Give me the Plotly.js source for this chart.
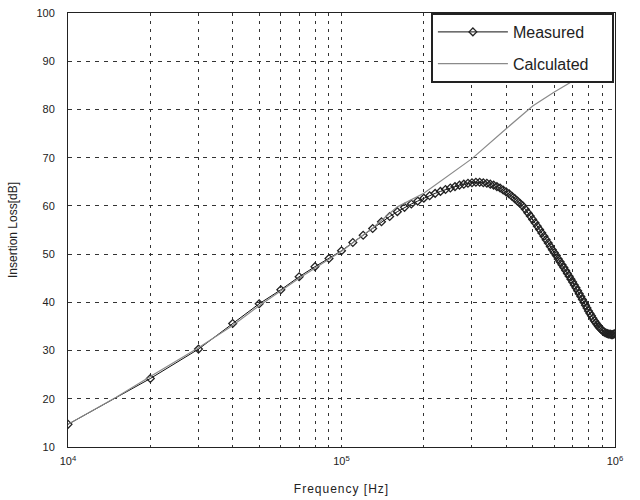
<!DOCTYPE html>
<html>
<head>
<meta charset="utf-8">
<script src="https://cdn.plot.ly/plotly-3.0.1.min.js"></script>
<style>html,body{margin:0;padding:0;background:#fff;}#chart{width:640px;height:500px;}
.xtitle{letter-spacing:1px;}</style>
</head>
<body>
<div id="chart"></div>
<script>
// Measured: frequency in kHz
const measuredFreqKHz = [10,20,30,40,50,60,70,80,90,100,110,120,130,140,150,160,170,180,190,200,
  210,220,230,240,250,260,270,280,290,300,310,320,330,340,350,360,370,380,390,400,
  410,420,430,440,450,460,470,480,490,500,510,520,530,540,550,560,570,580,590,600,
  610,620,630,640,650,660,670,680,690,700,710,720,730,740,750,760,770,780,790,800,
  810,820,830,840,850,860,870,880,890,900,910,920,930,940,950,960,970,980,990,1000];
const measuredDB = [14.7,24.2,30.3,35.6,39.7,42.6,45.3,47.4,49.1,50.7,52.4,53.9,55.3,56.7,57.8,58.8,59.7,60.4,61.0,61.6,
  62.1,62.6,63.0,63.4,63.7,64.0,64.3,64.5,64.7,64.8,64.9,64.9,64.8,64.7,64.5,64.3,64.0,63.7,63.3,62.9,
  62.5,62.0,61.5,61.0,60.5,60.0,59.3,58.6,57.9,57.2,56.5,55.8,55.1,54.4,53.7,53.0,52.3,51.6,50.9,50.3,
  49.7,49.0,48.4,47.8,47.2,46.6,46.0,45.4,44.8,44.2,43.6,43.0,42.4,41.8,41.2,40.6,40.0,39.4,38.8,38.2,
  37.7,37.2,36.7,36.2,35.8,35.4,35.0,34.7,34.4,34.1,33.9,33.7,33.6,33.5,33.4,33.4,33.3,33.3,33.4,33.5];

// Calculated: frequency in Hz
const calcFreq = [1e4,1.5e4,2e4,3e4,4e4,5e4,7e4,1e5,1.3e5,1.6e5,2e5,2.5e5,3e5,4e5,5e5,6e5,7e5,8e5];
const calcDB   = [14.7,20.3,24.6,30.6,35.2,39.3,45.0,50.6,55.4,59.8,62.6,66.5,69.8,76.0,80.7,83.6,85.8,87.8];

const xTickVals = [1e4,2e4,3e4,4e4,5e4,6e4,7e4,8e4,9e4,1e5,2e5,3e5,4e5,5e5,6e5,7e5,8e5,9e5,1e6];
const xTickText = ['10<sup>4</sup>','','','','','','','','','10<sup>5</sup>','','','','','','','','','10<sup>6</sup>'];
const yTickVals = [10,20,30,40,50,60,70,80,90,100];

const measured = {
  x: measuredFreqKHz.map(v => v * 1000),
  y: measuredDB,
  name: 'Measured',
  legendgroup: 'a',
  type: 'scatter',
  mode: 'lines+markers',
  line: {color: '#111', width: 1},
  marker: {symbol: 'diamond-open', size: 6, color: '#222', line: {width: 1.3, color: '#222'}}
};
const calculated = {
  x: calcFreq,
  y: calcDB,
  name: 'Calculated\u00a0\u00a0\u00a0\u00a0',
  legendgroup: 'b',
  type: 'scatter',
  mode: 'lines',
  line: {color: '#8a8a8a', width: 1.2}
};

const font = 'Liberation Sans, Arial, sans-serif';
const layout = {
  width: 640, height: 500,
  margin: {l: 68, r: 25, t: 13, b: 53},
  paper_bgcolor: '#fff', plot_bgcolor: '#fff',
  showlegend: true,
  legend: {
    x: 0.998, xanchor: 'right', y: 1, yanchor: 'top',
    bgcolor: '#fff', bordercolor: '#222', borderwidth: 2,
    font: {family: font, size: 16, color: '#222'},
    itemwidth: 70, traceorder: 'grouped', tracegroupgap: 8
  },
  xaxis: {
    type: 'log', range: [4, 6],
    tickmode: 'array', tickvals: xTickVals, ticktext: xTickText,
    showgrid: true, gridcolor: '#333', griddash: '3px,5px', gridwidth: 1,
    showline: true, linecolor: '#222', linewidth: 1, mirror: true,
    ticks: '', zeroline: false, ticklabelstandoff: 4,
    tickfont: {family: font, size: 11, color: '#222'},
    title: {text: 'Frequency [Hz]', font: {family: font, size: 12, color: '#222'}, standoff: 18}
  },
  yaxis: {
    range: [10, 100],
    tickmode: 'array', tickvals: yTickVals,
    showgrid: true, gridcolor: '#333', griddash: '4px,5px', gridwidth: 1,
    showline: true, linecolor: '#222', linewidth: 1, mirror: true,
    ticks: '', zeroline: false, ticklabelstandoff: 10,
    tickfont: {family: font, size: 11, color: '#222'},
    title: {text: 'Insertion Loss[dB]', font: {family: font, size: 12, color: '#222'}, standoff: 16}
  }
};

Plotly.newPlot('chart', [measured, calculated], layout, {displayModeBar: false, staticPlot: true});
</script>
</body>
</html>
